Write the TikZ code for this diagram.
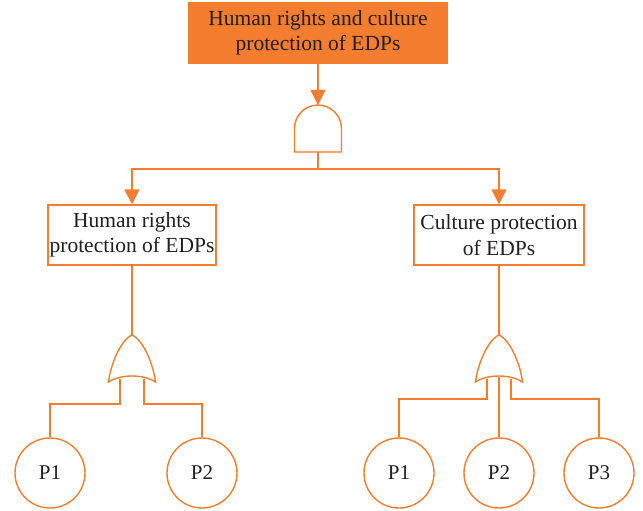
\documentclass[tikz,border=0pt]{standalone}
\usepackage{fontspec}
\setmainfont{Liberation Serif}
\usetikzlibrary{arrows.meta}
\definecolor{org}{HTML}{F47D30}
\definecolor{ink}{HTML}{231F20}
\begin{document}
\begin{tikzpicture}[x=1pt,y=-1pt,
  wire/.style={draw=org,line width=1.4pt},
  arr/.style={wire,-{Triangle[width=15pt,length=15pt]}},
  box/.style={draw=org,line width=1.4pt,align=center,text=ink,font=\fontsize{21.5}{25.5}\selectfont,inner sep=0pt},
  leaf/.style={draw=org,line width=1.4pt,circle,minimum size=70pt,inner sep=0pt,text=ink,font=\fontsize{21}{25}\selectfont}]
\useasboundingbox (0,0) rectangle (643,511);
% top event
\node[box,fill=org,minimum width=259pt,minimum height=60pt] (top) at (318,33) {Human rights and culture\\protection of EDPs};
% AND gate
\coordinate (andT) at (318,105);
\coordinate (andB) at (318,152);
\draw[wire] (294.5,152) -- (294.5,128.5) arc[start angle=180,end angle=360,radius=23.5] -- (341.5,152) -- cycle;
\coordinate (j) at (318,169);
% intermediate events
\node[box,minimum width=168pt,minimum height=60pt] (lb) at (132,235) {Human rights\\protection of EDPs};
\node[box,minimum width=170pt,minimum height=60pt] (rb) at (499,235) {Culture protection\\of EDPs};
% connectors top
\draw[arr] (top) -- (andT);
\draw[wire] (andB) -- (j);
\draw[arr] (j) -| (lb.north);
\draw[arr] (j) -| (rb.north);
% OR gate left
\coordinate (orLT) at (132,335);
\draw[wire] (132,335) .. controls (120.5,340) and (110.5,365) .. (108.5,382)
  .. controls (120.5,374) and (143.5,374) .. (155.5,382)
  .. controls (153.5,365) and (143.5,340) .. (132,335);
\coordinate (orLa) at (120,378.5);
\coordinate (orLb) at (144,378.5);
% OR gate right
\coordinate (orRT) at (499,335);
\draw[wire] (499,335) .. controls (487.5,340) and (477.5,365) .. (475.5,382)
  .. controls (487.5,374) and (510.5,374) .. (522.5,382)
  .. controls (520.5,365) and (510.5,340) .. (499,335);
\coordinate (orRa) at (487,378.5);
\coordinate (orRm) at (499,376.5);
\coordinate (orRb) at (511,378.5);
% leaves
\node[leaf] (l1) at (50,473) {P1};
\node[leaf] (l2) at (202,473) {P2};
\node[leaf] (r1) at (399,473) {P1};
\node[leaf] (r2) at (499,473) {P2};
\node[leaf] (r3) at (599,473) {P3};
% connectors
\draw[wire] (lb.south) -- (orLT);
\draw[wire] (rb.south) -- (orRT);
\draw[wire] (orLa) -- (120,404) -| (l1.north);
\draw[wire] (orLb) -- (144,404) -| (l2.north);
\draw[wire] (orRa) -- (487,399) -| (r1.north);
\draw[wire] (orRm) -- (r2.north);
\draw[wire] (orRb) -- (511,399) -| (r3.north);
\end{tikzpicture}
\end{document}
